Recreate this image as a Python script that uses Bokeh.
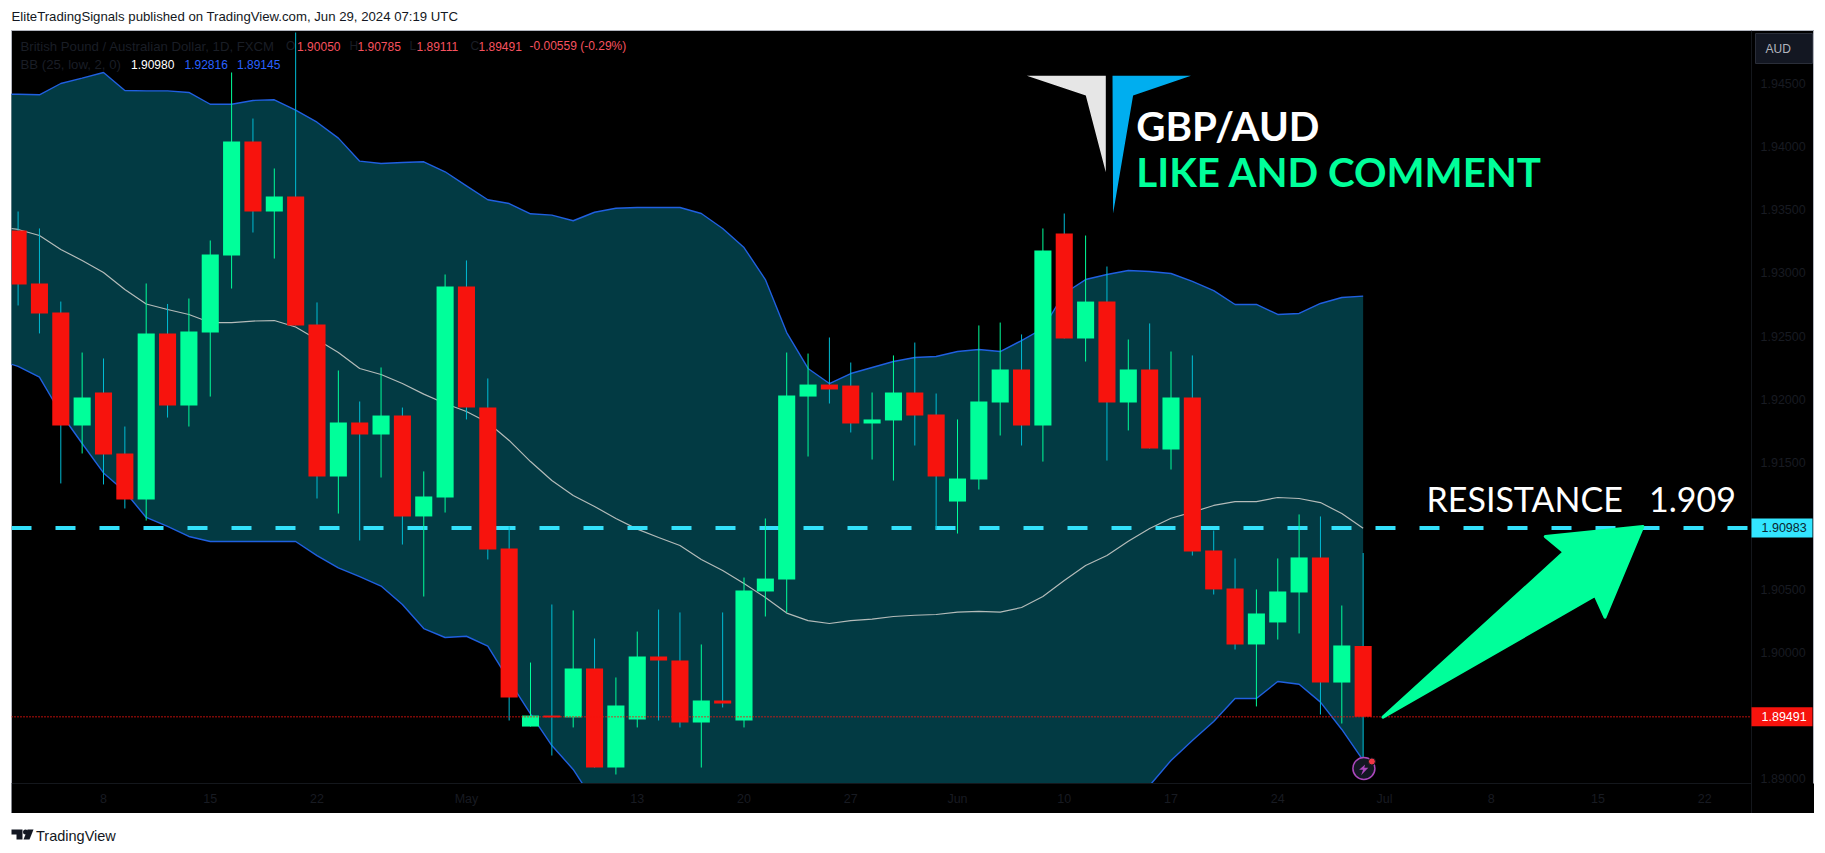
from bokeh.core.properties import value
from bokeh.embed import file_html
from bokeh.layouts import column
from bokeh.models import FixedTicker, Range1d
from bokeh.plotting import figure
from bokeh.resources import INLINE

# daily GBP/AUD bars, bar 0 is Apr 8 2024, weekends left out
first_bar = -4
opens = [1.93335, 1.92916, 1.92686, 1.91793, 1.92054, 1.91572, 1.91208, 1.92521, 1.91951, 1.92528,
         1.93137, 1.94038, 1.93485, 1.93604, 1.92592, 1.91390, 1.91817, 1.91722, 1.91872, 1.91074,
         1.91224, 1.92892, 1.91935, 1.90821, 1.89413, 1.89500, 1.89485, 1.89872, 1.89089, 1.89469,
         1.89967, 1.89935, 1.89445, 1.89619, 1.89461, 1.90481, 1.90575, 1.92022, 1.92117, 1.92109,
         1.91809, 1.91833, 1.92054, 1.91880, 1.91192, 1.91366, 1.91975, 1.92236, 1.91793, 1.93311,
         1.92481, 1.92773, 1.91975, 1.92236, 1.91603, 1.92015, 1.90805, 1.90505, 1.90062, 1.90236,
         1.90473, 1.90750, 1.89761, 1.90050]
highs = [1.93485, 1.93351, 1.92773, 1.92370, 1.92323, 1.91785, 1.92916, 1.92754, 1.92797, 1.93256,
         1.94584, 1.94220, 1.93825, 1.94900, 1.92766, 1.92228, 1.91983, 1.92252, 1.91935, 1.91430,
         1.92987, 1.93098, 1.92165, 1.90995, 1.89919, 1.90378, 1.90331, 1.90109, 1.89801, 1.90164,
         1.90338, 1.90315, 1.90062, 1.90315, 1.90591, 1.91058, 1.92370, 1.92362, 1.92489, 1.92291,
         1.92054, 1.92347, 1.92449, 1.92046, 1.91841, 1.92584, 1.92607, 1.92513, 1.93351, 1.93469,
         1.93295, 1.93050, 1.92473, 1.92600, 1.92378, 1.92347, 1.90963, 1.90742, 1.90497, 1.90742,
         1.91090, 1.91074, 1.90370, 1.90785]
lows = [1.92742, 1.92521, 1.91335, 1.91572, 1.91327, 1.91137, 1.91042, 1.91856, 1.91785, 1.92022,
        1.92876, 1.93319, 1.93113, 1.92584, 1.91216, 1.91097, 1.90884, 1.91382, 1.90852, 1.90441,
        1.91105, 1.91841, 1.90734, 1.89461, 1.89413, 1.89184, 1.89406, 1.89089, 1.89034, 1.89406,
        1.89461, 1.89406, 1.89089, 1.89564, 1.89406, 1.90283, 1.90315, 1.91548, 1.91967, 1.91738,
        1.91524, 1.91358, 1.91635, 1.90971, 1.90939, 1.91287, 1.91714, 1.91635, 1.91508, 1.92481,
        1.92299, 1.91516, 1.91754, 1.91611, 1.91445, 1.90765, 1.90457, 1.90022, 1.89572, 1.90101,
        1.90149, 1.89508, 1.89437, 1.89111]
closes = [1.92908, 1.92679, 1.91793, 1.92015, 1.91564, 1.91208, 1.92521, 1.91951, 1.92536, 1.93145,
          1.94038, 1.93485, 1.93604, 1.92584, 1.91390, 1.91817, 1.91722, 1.91872, 1.91074, 1.91232,
          1.92892, 1.91935, 1.90813, 1.89643, 1.89500, 1.89485, 1.89872, 1.89089, 1.89580, 1.89967,
          1.89935, 1.89445, 1.89619, 1.89595, 1.90489, 1.90583, 1.92030, 1.92117, 1.92078, 1.91809,
          1.91841, 1.92054, 1.91872, 1.91390, 1.91374, 1.91983, 1.92236, 1.91793, 1.93177, 1.92481,
          1.92773, 1.91975, 1.92236, 1.91611, 1.92015, 1.90797, 1.90497, 1.90062, 1.90307, 1.90481,
          1.90750, 1.89761, 1.90054, 1.89491]

# Bollinger bands, these start one bar earlier than the candles
band_first_bar = -5
bb_upper = [1.94413, 1.94412, 1.94408, 1.94497, 1.94539, 1.94584, 1.94442, 1.94439, 1.94439, 1.94426,
            1.94333, 1.94333, 1.94363, 1.94368, 1.94286, 1.94191, 1.94065, 1.93883, 1.93865, 1.93872,
            1.93878, 1.93799, 1.93688, 1.93578, 1.93548, 1.93467, 1.93456, 1.93412, 1.93479, 1.93511,
            1.93517, 1.93517, 1.93517, 1.93469, 1.93351, 1.93200, 1.92947, 1.92528, 1.92244, 1.92125,
            1.92204, 1.92252, 1.92299, 1.92331, 1.92339, 1.92378, 1.92394, 1.92378, 1.92465, 1.92560,
            1.92837, 1.92947, 1.92987, 1.93019, 1.93011, 1.92995, 1.92932, 1.92860, 1.92750, 1.92750,
            1.92671, 1.92679, 1.92758, 1.92805, 1.92816]
bb_basis = [1.93366, 1.93343, 1.93295, 1.93185, 1.93098, 1.93003, 1.92868, 1.92754, 1.92710, 1.92671,
            1.92607, 1.92607, 1.92619, 1.92623, 1.92572, 1.92473, 1.92370, 1.92244, 1.92196, 1.92125,
            1.92041, 1.91967, 1.91904, 1.91817, 1.91675, 1.91508, 1.91358, 1.91240, 1.91153, 1.91058,
            1.90974, 1.90908, 1.90844, 1.90734, 1.90647, 1.90544, 1.90433, 1.90310, 1.90251, 1.90228,
            1.90251, 1.90263, 1.90283, 1.90293, 1.90299, 1.90318, 1.90323, 1.90318, 1.90354, 1.90441,
            1.90568, 1.90686, 1.90765, 1.90878, 1.90979, 1.91060, 1.91108, 1.91161, 1.91192, 1.91192,
            1.91224, 1.91216, 1.91184, 1.91097, 1.90980]
bb_lower = [1.92315, 1.92260, 1.92175, 1.91888, 1.91651, 1.91418, 1.91271, 1.91066, 1.90995, 1.90916,
            1.90876, 1.90876, 1.90876, 1.90876, 1.90876, 1.90765, 1.90667, 1.90599, 1.90524, 1.90378,
            1.90188, 1.90117, 1.90127, 1.90049, 1.89777, 1.89513, 1.89263, 1.89074, 1.88813, 1.88607,
            1.88433, 1.88299, 1.88172, 1.87998, 1.87943, 1.87888, 1.87919, 1.88093, 1.88259, 1.88330,
            1.88299, 1.88275, 1.88267, 1.88259, 1.88259, 1.88259, 1.88251, 1.88259, 1.88243, 1.88322,
            1.88299, 1.88425, 1.88544, 1.88741, 1.88947, 1.89145, 1.89303, 1.89453, 1.89635, 1.89635,
            1.89769, 1.89748, 1.89606, 1.89390, 1.89145]

resistance = 1.90983
last_price = 1.89491
price_ticks = [1.89, 1.895, 1.90, 1.905, 1.91, 1.915, 1.92, 1.925, 1.93, 1.935, 1.94, 1.945]
date_ticks = [0, 5, 10, 17, 25, 30, 35, 40, 45, 50, 55, 60, 65, 70, 75]
date_labels = ["8", "15", "22", "May", "13", "20", "27", "Jun", "10", "17", "24", "Jul", "8", "15", "22"]


# page pixel -> chart units, only used to place the drawings and headers
def to_bar(px):
    return (px - 103) / 21.35


def to_price(py):
    return 1.951532 - py * 0.00007906


GREEN = "#00ff9a"
RED = "#f7130d"
CYAN = "#00bcd4"
DIM = "#1a1e26"
FONT = value("Liberation Sans")
BIG_FONT = value("Lato")
PANE_RIGHT = to_bar(1751)
PANE_LEFT = to_bar(11)
PANE_BOTTOM = to_price(783)

# white strip above the chart
top = figure(width=1825, height=30, x_range=Range1d(0, 1825), y_range=Range1d(30, 0),
             x_axis_type=None, y_axis_type=None, toolbar_location=None, output_backend="svg",
             min_border=0, outline_line_color=None)
top.grid.visible = False
top.text([11], [16], text=["EliteTradingSignals published on TradingView.com, Jun 29, 2024 07:19 UTC"],
         text_font=FONT, text_font_size="13.2px", text_color="#131722", text_baseline="middle")

# the frame is the whole black box, the axes are pinned inside it so the
# price and date strips stay black and can carry the price tags
p = figure(width=1803, height=783, x_range=Range1d(PANE_LEFT, to_bar(1814)),
           y_range=Range1d(to_price(813), to_price(30)), y_axis_location="right",
           toolbar_location=None, output_backend="svg", background_fill_color="black",
           border_fill_color="white", min_border=0, outline_line_color="#b2b5be",
           margin=(0, 0, 0, 11))
p.grid.visible = False

p.yaxis.fixed_location = PANE_RIGHT
p.xaxis.fixed_location = PANE_BOTTOM
p.yaxis.ticker = FixedTicker(ticks=price_ticks)
p.yaxis.major_label_overrides = {t: "%.5f" % t for t in price_ticks}
p.xaxis.ticker = FixedTicker(ticks=date_ticks)
p.xaxis.major_label_overrides = dict(zip(date_ticks, date_labels))
for ax in (p.xaxis, p.yaxis):
    ax.axis_line_color = None
    ax.major_tick_line_color = None
    ax.minor_tick_line_color = None
    ax.major_label_text_color = "#181b22"
    ax.major_label_text_font = "Liberation Sans"
    ax.major_label_text_font_size = "12.5px"
p.yaxis.major_label_standoff = 3
p.xaxis.major_label_standoff = 2

band_x = [band_first_bar + i for i in range(len(bb_upper))]
p.varea(band_x, bb_lower, bb_upper, fill_color="#023a43")
p.line(band_x, bb_upper, line_color="#2060e0", line_width=1.4)
p.line(band_x, bb_lower, line_color="#2060e0", line_width=1.4)
p.line(band_x, bb_basis, line_color="#b4bbb9", line_width=1.2)

p.line([PANE_LEFT, PANE_RIGHT], [resistance, resistance], line_color="#33e0fa", line_width=4,
       line_dash="20 24")

bars = [first_bar + i for i in range(len(opens))]
up = [c >= o for o, c in zip(opens, closes)]
p.segment(bars, lows, bars, highs, line_width=1,
          line_color=[GREEN if u else CYAN for u in up])
p.vbar(bars, width=0.8, bottom=[min(o, c) for o, c in zip(opens, closes)],
       top=[max(o, c) for o, c in zip(opens, closes)],
       fill_color=[GREEN if u else RED for u in up], line_color=None)

p.line([PANE_LEFT, PANE_RIGHT], [last_price, last_price], line_color=RED, line_width=1.5,
       line_dash="1 2")

# date strip hides what runs below the pane (the lower band does)
p.quad(left=[PANE_LEFT], right=[to_bar(1814)], bottom=[to_price(813)], top=[PANE_BOTTOM],
       fill_color="black", line_color=None)
p.line([PANE_LEFT, PANE_RIGHT], [PANE_BOTTOM, PANE_BOTTOM], line_color="#14171c", line_width=1)
p.line([PANE_RIGHT, PANE_RIGHT], [to_price(813), to_price(30)], line_color="#14171c", line_width=1)

# logo
p.patch([to_bar(v) for v in (1026.3, 1105.3, 1105.3, 1085.3)],
        [to_price(v) for v in (75.3, 75.3, 171.7, 95)], fill_color="#e6e6e6", line_color=None)
p.patch([to_bar(v) for v in (1112, 1190.5, 1132.6, 1112.6)],
        [to_price(v) for v in (75.3, 75.3, 95, 213)], fill_color="#00aeef", line_color=None)

# arrow up to the resistance
p.patch([to_bar(v) for v in (1382.5, 1563.5, 1544.8, 1642.4, 1604.5, 1594.6)],
        [to_price(v) for v in (716.7, 551.7, 536, 526, 616.7, 595)],
        fill_color=GREEN, line_color=GREEN, line_width=3, line_join="round")

p.text([to_bar(1135.8)], [to_price(125)], text=["GBP/AUD"], text_font=BIG_FONT, text_font_size="40.3px",
       text_font_style="bold", text_color="white", text_baseline="middle")
p.text([to_bar(1135.8)], [to_price(170.5)], text=["LIKE AND COMMENT"], text_font=BIG_FONT,
       text_font_size="40.3px", text_font_style="bold", text_color=GREEN, text_baseline="middle")
p.text([to_bar(1426)], [to_price(498)], text=["RESISTANCE\u00a0\u00a0\u00a01.909"], text_font=BIG_FONT,
       text_font_size="34px", text_color="white", text_baseline="middle")

# alert icon on the last bar
p.scatter([to_bar(1363.4)], [to_price(768)], marker="circle", size=22, fill_color="#131722",
          line_color="#ab47bc", line_width=1.5)
p.patch([to_bar(v) for v in (1364.6, 1358.6, 1362.6, 1360.6, 1367.8, 1363.8)],
        [to_price(v) for v in (764, 769.3, 769.3, 774.7, 767.3, 767.3)],
        fill_color="#ab47bc", line_color=None)
p.scatter([to_bar(1371.4)], [to_price(761)], marker="circle", size=7, fill_color="#f23645",
          line_color="#131722", line_width=1)

# chart header, two lines
header = [
    (20, 45.7, "British Pound / Australian Dollar, 1D, FXCM", DIM, "13.2px"),
    (285.5, 45.7, "O", DIM, "12px"), (296.6, 45.7, "1.90050", "#f7525f", "12px"),
    (349, 45.7, "H", DIM, "12px"), (357, 45.7, "1.90785", "#f7525f", "12px"),
    (409, 45.7, "L", DIM, "12px"), (416, 45.7, "1.89111", "#f7525f", "12px"),
    (470, 45.7, "C", DIM, "12px"), (478, 45.7, "1.89491", "#f7525f", "12px"),
    (529, 45.7, "-0.00559 (-0.29%)", "#f7525f", "12px"),
    (20, 64, "BB (25, low, 2, 0)", DIM, "13.2px"),
    (130.5, 64, "1.90980", "white", "12px"), (184, 64, "1.92816", "#2962ff", "12px"),
    (236.5, 64, "1.89145", "#2962ff", "12px"),
]
p.text([to_bar(h[0]) for h in header], [to_price(h[1]) for h in header], text=[h[2] for h in header],
       text_color=[h[3] for h in header], text_font=FONT, text_font_size=[h[4] for h in header],
       text_baseline="middle")

# tags on the price strip, above the axis labels they cover
p.quad(left=[PANE_RIGHT] * 2, right=[to_bar(1812)] * 2,
       bottom=[resistance - 0.00075, last_price - 0.00075],
       top=[resistance + 0.00075, last_price + 0.00075], fill_color=["#33e5ff", RED], line_color=None,
       level="overlay")
p.text([to_bar(1761)] * 2, [resistance, last_price], text=["%.5f" % resistance, "%.5f" % last_price],
       text_color=["#0a2530", "white"], text_font=FONT, text_font_size="12.5px", text_baseline="middle",
       level="overlay")
p.quad(left=[to_bar(1755)], right=[to_bar(1812)], bottom=[to_price(63)], top=[to_price(33)],
       fill_color="#131722", line_color="#2a2e39")
p.text([to_bar(1765)], [to_price(48)], text=["AUD"], text_color="#b2b5be", text_font=FONT,
       text_font_size="12px", text_baseline="middle")

# white strip below with the TradingView mark
bottom = figure(width=1825, height=40, x_range=Range1d(0, 1825), y_range=Range1d(853, 813),
                x_axis_type=None, y_axis_type=None, toolbar_location=None, output_backend="svg",
                min_border=0, outline_line_color=None)
bottom.grid.visible = False
bottom.patch([11, 22, 22, 16, 16, 11], [829, 829, 839, 839, 834, 834], fill_color="#131722", line_color=None)
bottom.scatter([25], [831.5], marker="circle", size=5, fill_color="#131722", line_color=None)
bottom.patch([27, 33, 29, 23], [829, 829, 839, 839], fill_color="#131722", line_color=None)
bottom.text([35.5], [835], text=["TradingView"], text_font=FONT, text_font_size="14.5px",
            text_color="#131722", text_baseline="middle")

page = column(top, p, bottom, spacing=0)
open("out.html", "w").write(file_html(page, INLINE))
